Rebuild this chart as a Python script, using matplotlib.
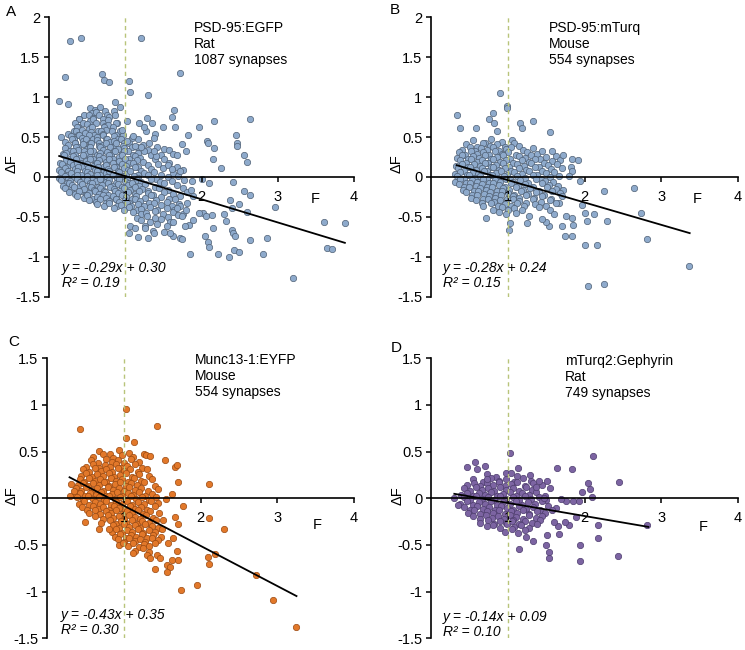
import numpy as np
import matplotlib
matplotlib.use("Agg")
import matplotlib.pyplot as plt

plt.rcParams['font.family'] = ['Liberation Sans', 'DejaVu Sans']
plt.rcParams['axes.unicode_minus'] = False

W, H = 745, 650

# ---- data ----
panel_letters = ["A", "B", "C", "D"]
constructs = ["PSD-95:EGFP", "PSD-95:mTurq", "Munc13-1:EYFP", "mTurq2:Gephyrin"]
species = ["Rat", "Mouse", "Mouse", "Rat"]
n_syn = [1087, 554, 554, 749]
fit_slope = [-0.29, -0.28, -0.43, -0.14]
fit_icpt = [0.30, 0.24, 0.35, 0.09]
fit_r2 = [0.19, 0.15, 0.30, 0.10]
fit_xrange = [(0.13, 3.88), (0.33, 3.37), (0.29, 3.25), (0.30, 2.83)]
y_limits = [(-1.5, 2), (-1.5, 2), (-1.5, 1.5), (-1.5, 1.5)]

# isolated points (F, dF)
a_sparse = [(0.27, 1.70), (0.42, 1.74), (1.21, 1.74), (0.20, 1.25), (0.69, 1.29), (0.72, 1.22),
            (0.79, 1.19), (1.72, 1.30), (1.04, 1.20), (1.06, 1.07), (0.13, 0.95), (0.25, 0.92),
            (1.30, 1.03), (0.86, 0.94), (0.93, 0.88), (0.86, 0.78), (1.64, 0.84), (1.61, 0.75),
            (1.28, 0.74), (1.35, 0.68), (1.49, 0.63), (1.65, 0.63), (2.16, 0.70), (2.63, 0.72),
            (1.97, 0.62), (1.82, 0.53), (1.74, 0.41), (1.79, 0.32), (2.07, 0.45), (2.08, 0.42),
            (2.16, 0.36), (2.45, 0.52), (2.47, 0.43), (2.47, 0.39), (2.15, 0.23), (2.25, 0.11),
            (2.55, 0.28), (2.60, 0.19), (2.41, -0.06), (2.56, -0.17), (2.64, -0.22), (2.96, -0.38),
            (2.37, -0.29), (2.40, -0.39), (2.49, -0.34), (2.60, -0.44), (2.14, -0.48), (2.29, -0.46),
            (2.15, -0.64), (2.32, -0.55), (2.40, -0.66), (2.41, -0.70), (2.44, -0.74), (2.64, -0.79),
            (2.86, -0.77), (2.04, -0.74), (2.08, -0.81), (2.10, -0.88), (2.21, -0.97), (2.36, -1.00),
            (2.43, -0.92), (2.49, -0.94), (2.81, -0.97), (3.20, -1.27), (3.60, -0.57), (3.88, -0.58),
            (3.64, -0.89), (3.71, -0.90), (1.85, -0.96), (1.62, -0.74), (1.72, -0.76), (1.74, -0.78),
            (1.50, -0.69), (1.59, -0.70), (1.29, -0.76), (1.17, -0.75), (1.05, -0.70), (1.06, -0.62),
            (1.13, -0.64), (1.25, -0.64), (1.36, -0.68), (1.38, -0.70), (2.02, -0.45), (1.96, -0.45),
            (2.06, -0.49), (1.84, -0.60), (1.89, -0.54), (1.78, -0.62), (1.63, -0.57), (1.74, -0.49),
            (1.86, -0.16), (1.87, -0.05), (2.00, -0.02), (2.09, -0.08), (1.89, -0.24), (1.81, -0.33),
            (1.72, -0.37), (1.79, -0.42), (1.67, -0.39), (1.51, 0.35), (1.57, 0.34), (1.62, 0.29),
            (1.67, 0.27), (1.56, 0.15), (1.61, 0.10), (1.71, 0.08), (1.40, 0.26), (1.37, 0.32),
            (1.31, 0.43), (1.20, 0.38), (1.12, 0.39), (1.10, 0.51), (1.02, 0.45), (1.39, 0.54),
            (1.37, 0.49), (1.27, 0.57), (1.24, 0.63), (1.18, 0.68), (1.02, 0.70), (0.96, 0.59)]

b_sparse = [(0.33, 0.77), (0.38, 0.61), (0.89, 1.05), (0.99, 0.89), (0.99, 0.87), (0.81, 0.80),
            (0.75, 0.72), (0.82, 0.67), (0.86, 0.58), (0.58, 0.61), (1.16, 0.68), (1.18, 0.61),
            (1.33, 0.70), (1.55, 0.56), (1.57, 0.32), (1.72, 0.27), (1.83, 0.23), (1.91, 0.21),
            (1.82, 0.13), (1.83, 0.07), (1.79, 0.01), (1.94, -0.05), (2.25, -0.18), (2.64, -0.14),
            (2.74, -0.45), (2.81, -0.78), (3.36, -1.12), (2.00, -0.45), (1.96, -0.35), (2.03, -0.55),
            (2.12, -0.46), (2.29, -0.55), (2.01, -0.85), (2.16, -0.85), (2.04, -1.36), (2.25, -1.34),
            (1.75, -0.74), (1.83, -0.74), (1.76, -0.49), (1.83, -0.51), (1.85, -0.60), (1.70, -0.62),
            (0.71, -0.52), (1.01, -0.66), (1.02, -0.58), (1.53, -0.62), (1.49, -0.56), (1.44, -0.53),
            (1.28, -0.49), (1.25, -0.58)]

c_sparse = [(1.03, 0.96), (0.42, 0.74), (1.43, 0.77), (1.03, 0.65), (1.13, 0.60), (0.30, 0.02),
            (0.31, 0.15), (0.35, 0.08), (0.49, -0.25), (0.67, -0.33), (0.80, -0.33), (0.93, -0.50),
            (0.99, -0.48), (1.12, -0.59), (2.11, 0.15), (2.11, -0.21), (1.77, -0.08), (1.62, 0.05),
            (1.71, 0.18), (1.67, 0.34), (1.69, 0.36), (1.54, 0.41), (1.29, 0.46), (1.34, 0.45),
            (2.30, -0.33), (2.09, -0.63), (2.19, -0.60), (2.11, -0.70), (2.72, -0.82), (2.95, -1.09),
            (3.25, -1.38), (1.75, -0.98), (1.95, -0.93), (1.40, -0.76), (1.56, -0.71), (1.60, -0.74),
            (1.63, -0.66), (1.71, -0.66), (1.69, -0.56), (1.58, -0.48), (1.64, -0.43), (1.70, -0.27),
            (1.67, -0.20), (1.51, -0.23), (1.30, -0.61), (1.34, -0.64), (1.43, -0.61), (1.47, -0.64),
            (1.56, -0.79)]

d_sparse = [(1.02, 0.49), (0.29, 0.00), (0.35, -0.07), (0.47, 0.34), (0.57, 0.39), (0.60, 0.31),
            (0.70, 0.35), (0.72, 0.21), (1.13, 0.32), (1.04, 0.27), (1.29, 0.25), (1.64, 0.33),
            (1.83, 0.31), (2.11, 0.45), (2.45, 0.18), (2.05, 0.16), (2.07, 0.10), (2.10, 0.01),
            (1.97, 0.07), (1.93, -0.03), (1.85, -0.03), (1.76, -0.03), (1.69, -0.01), (1.55, 0.11),
            (1.40, 0.19), (1.51, 0.19), (1.36, 0.12), (1.47, 0.00), (1.89, -0.20), (2.17, -0.29),
            (2.18, -0.43), (1.94, -0.50), (1.94, -0.67), (2.43, -0.62), (1.54, -0.64), (1.54, -0.57),
            (1.49, -0.50), (1.79, -0.29), (1.66, -0.38), (1.65, -0.30), (1.60, -0.25), (1.75, -0.25),
            (1.15, -0.54), (1.23, -0.41), (1.33, -0.46), (1.51, -0.39), (2.81, -0.29), (0.73, -0.30),
            (1.05, -0.24)]

# dense clouds (estimated, overlapping markers)
a_core = [
    (0.53, 0.87), (0.60, 0.84), (0.67, 0.88), (0.73, 0.82),
    (0.46, 0.77), (0.56, 0.80), (0.61, 0.81), (0.76, 0.78), (0.85, 0.83),
    (0.39, 0.73), (0.52, 0.78), (0.57, 0.74), (0.65, 0.77), (0.71, 0.72), (0.78, 0.75),
    (0.39, 0.72), (0.44, 0.67), (0.53, 0.70), (0.58, 0.72), (0.70, 0.68), (0.77, 0.71), (0.89, 0.67),
    (0.34, 0.67), (0.38, 0.63), (0.50, 0.66), (0.55, 0.62), (0.61, 0.68), (0.73, 0.64), (0.77, 0.65),
    (0.87, 0.67),
    (0.32, 0.57), (0.36, 0.63), (0.43, 0.59), (0.52, 0.60), (0.56, 0.62), (0.64, 0.58), (0.72, 0.62),
    (0.75, 0.59), (0.84, 0.63), (0.93, 0.57),
    (0.25, 0.54), (0.35, 0.58), (0.38, 0.52), (0.47, 0.55), (0.55, 0.56), (0.59, 0.53), (0.68, 0.58),
    (0.71, 0.54), (0.82, 0.57), (0.88, 0.52),
    (0.15, 0.50), (0.29, 0.51), (0.32, 0.48), (0.39, 0.53), (0.43, 0.49), (0.52, 0.52), (0.57, 0.47),
    (0.62, 0.50), (0.71, 0.52), (0.75, 0.48), (0.85, 0.51), (0.90, 0.47), (0.97, 0.53), (1.09, 0.49),
    (0.21, 0.44), (0.30, 0.47), (0.34, 0.42), (0.44, 0.45), (0.48, 0.47), (0.54, 0.43), (0.62, 0.46),
    (0.65, 0.42), (0.76, 0.48), (0.80, 0.44), (0.85, 0.45), (0.94, 0.47), (0.98, 0.43), (1.17, 0.47),
    (0.24, 0.40), (0.34, 0.42), (0.38, 0.38), (0.44, 0.41), (0.52, 0.37), (0.55, 0.43), (0.65, 0.39),
    (0.70, 0.40), (0.75, 0.42), (0.84, 0.38), (0.87, 0.42), (0.97, 0.39), (1.04, 0.43), (1.09, 0.37),
    (1.23, 0.40),
    (0.20, 0.36), (0.27, 0.32), (0.35, 0.38), (0.38, 0.34), (0.49, 0.35), (0.53, 0.37), (0.58, 0.33),
    (0.67, 0.37), (0.70, 0.34), (0.80, 0.38), (0.85, 0.32), (0.90, 0.35), (0.98, 0.36), (1.03, 0.33),
    (1.15, 0.38), (1.30, 0.34), (1.41, 0.37),
    (0.18, 0.29), (0.22, 0.30), (0.31, 0.32), (0.34, 0.28), (0.45, 0.32), (0.49, 0.29), (0.54, 0.33),
    (0.63, 0.27), (0.66, 0.30), (0.76, 0.31), (0.81, 0.28), (0.86, 0.33), (0.95, 0.29), (0.98, 0.32),
    (1.10, 0.27), (1.16, 0.30), (1.24, 0.32), (1.47, 0.28),
    (0.19, 0.27), (0.27, 0.23), (0.31, 0.26), (0.40, 0.24), (0.44, 0.28), (0.53, 0.25), (0.57, 0.22),
    (0.65, 0.26), (0.70, 0.24), (0.78, 0.27), (0.83, 0.23), (0.91, 0.25), (0.96, 0.28), (1.04, 0.22),
    (1.12, 0.26), (1.19, 0.24), (1.34, 0.27), (1.51, 0.23),
    (0.14, 0.18), (0.22, 0.21), (0.27, 0.19), (0.35, 0.22), (0.40, 0.17), (0.48, 0.20), (0.53, 0.23),
    (0.61, 0.18), (0.65, 0.21), (0.74, 0.19), (0.78, 0.22), (0.87, 0.17), (0.91, 0.20), (1.00, 0.22),
    (1.05, 0.18), (1.15, 0.21), (1.23, 0.19), (1.39, 0.22), (1.57, 0.18),
    (0.17, 0.16), (0.23, 0.13), (0.31, 0.15), (0.36, 0.17), (0.44, 0.12), (0.49, 0.16), (0.57, 0.14),
    (0.62, 0.17), (0.70, 0.13), (0.74, 0.15), (0.83, 0.17), (0.87, 0.12), (0.96, 0.16), (1.01, 0.14),
    (1.10, 0.17), (1.17, 0.13), (1.29, 0.15), (1.43, 0.16), (1.67, 0.13),
    (0.13, 0.09), (0.21, 0.11), (0.25, 0.08), (0.34, 0.10), (0.38, 0.12), (0.47, 0.08), (0.51, 0.11),
    (0.60, 0.09), (0.64, 0.12), (0.72, 0.07), (0.77, 0.10), (0.85, 0.12), (0.90, 0.08), (0.98, 0.11),
    (1.03, 0.09), (1.13, 0.12), (1.20, 0.08), (1.33, 0.10), (1.49, 0.11), (1.76, 0.09),
    (0.16, 0.06), (0.23, 0.03), (0.28, 0.05), (0.36, 0.07), (0.41, 0.03), (0.49, 0.06), (0.54, 0.04),
    (0.62, 0.07), (0.66, 0.02), (0.75, 0.05), (0.79, 0.07), (0.88, 0.03), (0.92, 0.06), (1.01, 0.04),
    (1.06, 0.07), (1.16, 0.03), (1.24, 0.05), (1.37, 0.06), (1.47, 0.03), (1.63, 0.05),
    (0.13, -0.01), (0.20, 0.01), (0.24, -0.02), (0.33, 0.00), (0.37, 0.02), (0.46, -0.02), (0.50, 0.01),
    (0.58, -0.01), (0.63, 0.02), (0.71, -0.02), (0.76, 0.00), (0.84, 0.02), (0.89, -0.01), (0.97, 0.01),
    (1.02, -0.02), (1.11, 0.01), (1.17, -0.01), (1.30, 0.02), (1.40, -0.02), (1.56, 0.00), (1.69, 0.01),
    (0.15, -0.04), (0.23, -0.07), (0.27, -0.05), (0.36, -0.03), (0.40, -0.06), (0.49, -0.04),
    (0.53, -0.07), (0.61, -0.05), (0.66, -0.03), (0.74, -0.06), (0.79, -0.04), (0.87, -0.07),
    (0.92, -0.03), (1.00, -0.05), (1.05, -0.07), (1.15, -0.04), (1.21, -0.06), (1.34, -0.03),
    (1.45, -0.06), (1.61, -0.05), (1.77, -0.04),
    (0.18, -0.11), (0.26, -0.08), (0.30, -0.10), (0.39, -0.12), (0.43, -0.09), (0.52, -0.11),
    (0.56, -0.08), (0.64, -0.12), (0.69, -0.10), (0.77, -0.08), (0.82, -0.11), (0.90, -0.09),
    (0.95, -0.12), (1.03, -0.10), (1.08, -0.08), (1.18, -0.11), (1.25, -0.09), (1.39, -0.12),
    (1.51, -0.08), (1.68, -0.10),
    (0.21, -0.14), (0.29, -0.16), (0.33, -0.13), (0.42, -0.17), (0.46, -0.15), (0.55, -0.13),
    (0.59, -0.16), (0.67, -0.14), (0.72, -0.17), (0.80, -0.13), (0.85, -0.15), (0.93, -0.17),
    (0.98, -0.14), (1.06, -0.16), (1.12, -0.13), (1.22, -0.15), (1.30, -0.17), (1.44, -0.14),
    (1.56, -0.16), (1.75, -0.14),
    (0.26, -0.19), (0.34, -0.21), (0.39, -0.18), (0.48, -0.22), (0.52, -0.20), (0.60, -0.18),
    (0.65, -0.21), (0.73, -0.19), (0.77, -0.22), (0.86, -0.18), (0.90, -0.20), (0.99, -0.22),
    (1.03, -0.19), (1.12, -0.21), (1.18, -0.18), (1.29, -0.20), (1.36, -0.22), (1.50, -0.19),
    (1.62, -0.21), (1.81, -0.19),
    (0.36, -0.24), (0.45, -0.26), (0.49, -0.23), (0.58, -0.27), (0.62, -0.25), (0.71, -0.23),
    (0.75, -0.26), (0.83, -0.24), (0.88, -0.27), (0.96, -0.23), (1.01, -0.25), (1.09, -0.27),
    (1.14, -0.24), (1.25, -0.26), (1.33, -0.23), (1.46, -0.25), (1.57, -0.27), (1.72, -0.24),
    (0.52, -0.29), (0.61, -0.31), (0.66, -0.28), (0.74, -0.32), (0.78, -0.30), (0.87, -0.28),
    (0.91, -0.31), (1.00, -0.29), (1.04, -0.32), (1.13, -0.28), (1.19, -0.30), (1.31, -0.32),
    (1.40, -0.29), (1.55, -0.31), (1.65, -0.28),
    (0.62, -0.34), (0.72, -0.36), (0.79, -0.33), (0.89, -0.37), (0.94, -0.35), (1.02, -0.33),
    (1.07, -0.36), (1.17, -0.34), (1.24, -0.37), (1.37, -0.33), (1.47, -0.35), (1.61, -0.37),
    (1.70, -0.34),
    (0.85, -0.39), (0.98, -0.41), (1.05, -0.38), (1.15, -0.42), (1.21, -0.40), (1.32, -0.38),
    (1.41, -0.41), (1.54, -0.39), (1.64, -0.42),
    (1.10, -0.44), (1.20, -0.47), (1.27, -0.45), (1.39, -0.43), (1.49, -0.46), (1.63, -0.44),
    (1.76, -0.46),
    (1.15, -0.51), (1.28, -0.49), (1.39, -0.52), (1.56, -0.50), (1.69, -0.48),
    (1.21, -0.54), (1.32, -0.56), (1.47, -0.53), (1.59, -0.57),
    (1.26, -0.61), (1.42, -0.59), (1.55, -0.62),
]

b_core = [
    (0.55, 0.46), (0.70, 0.43), (0.78, 0.47), (0.92, 0.44), (1.05, 0.46),
    (0.45, 0.41), (0.60, 0.38), (0.68, 0.42), (0.76, 0.39), (0.86, 0.41), (0.96, 0.38), (1.08, 0.42),
    (1.15, 0.39),
    (0.40, 0.34), (0.50, 0.37), (0.57, 0.33), (0.65, 0.36), (0.73, 0.34), (0.80, 0.37), (0.88, 0.33),
    (0.97, 0.35), (1.04, 0.37), (1.20, 0.34), (1.32, 0.36),
    (0.36, 0.31), (0.44, 0.28), (0.52, 0.32), (0.60, 0.29), (0.68, 0.31), (0.75, 0.28), (0.83, 0.32),
    (0.92, 0.29), (1.00, 0.31), (1.10, 0.28), (1.25, 0.31), (1.38, 0.29), (1.45, 0.32),
    (0.33, 0.24), (0.40, 0.27), (0.48, 0.23), (0.55, 0.26), (0.62, 0.24), (0.70, 0.27), (0.78, 0.23),
    (0.86, 0.25), (0.94, 0.27), (1.02, 0.23), (1.15, 0.26), (1.22, 0.24), (1.30, 0.27), (1.42, 0.23),
    (1.50, 0.25), (1.62, 0.26),
    (0.37, 0.21), (0.45, 0.18), (0.52, 0.22), (0.59, 0.19), (0.66, 0.21), (0.74, 0.18), (0.81, 0.22),
    (0.89, 0.19), (0.97, 0.21), (1.06, 0.18), (1.18, 0.21), (1.27, 0.19), (1.35, 0.22), (1.47, 0.18),
    (1.57, 0.20), (1.68, 0.21),
    (0.32, 0.14), (0.40, 0.16), (0.48, 0.13), (0.56, 0.16), (0.63, 0.14), (0.70, 0.17), (0.78, 0.13),
    (0.85, 0.15), (0.93, 0.17), (1.01, 0.13), (1.12, 0.16), (1.21, 0.14), (1.30, 0.17), (1.40, 0.13),
    (1.52, 0.15), (1.64, 0.16),
    (0.35, 0.11), (0.43, 0.08), (0.51, 0.12), (0.58, 0.09), (0.66, 0.11), (0.73, 0.08), (0.81, 0.12),
    (0.88, 0.09), (0.96, 0.11), (1.04, 0.08), (1.14, 0.11), (1.24, 0.09), (1.35, 0.12), (1.45, 0.08),
    (1.56, 0.10), (1.70, 0.11),
    (0.31, 0.04), (0.38, 0.06), (0.46, 0.03), (0.54, 0.06), (0.61, 0.04), (0.69, 0.07), (0.76, 0.03),
    (0.84, 0.05), (0.91, 0.07), (0.99, 0.03), (1.08, 0.06), (1.18, 0.04), (1.28, 0.07), (1.38, 0.03),
    (1.50, 0.05), (1.60, 0.06),
    (0.34, 0.01), (0.42, -0.02), (0.49, 0.02), (0.57, -0.01), (0.64, 0.01), (0.72, -0.02), (0.79, 0.02),
    (0.87, -0.01), (0.95, 0.01), (1.03, -0.02), (1.12, 0.01), (1.22, -0.01), (1.32, 0.02), (1.43, -0.02),
    (1.55, 0.00), (1.66, 0.01),
    (0.31, -0.06), (0.38, -0.03), (0.45, -0.07), (0.53, -0.04), (0.60, -0.06), (0.68, -0.03),
    (0.75, -0.07), (0.83, -0.04), (0.90, -0.06), (0.98, -0.03), (1.07, -0.06), (1.16, -0.04),
    (1.26, -0.07), (1.37, -0.03), (1.48, -0.05), (1.59, -0.06),
    (0.36, -0.09), (0.43, -0.12), (0.51, -0.08), (0.58, -0.11), (0.66, -0.09), (0.73, -0.12),
    (0.81, -0.08), (0.88, -0.10), (0.96, -0.12), (1.04, -0.08), (1.13, -0.11), (1.22, -0.09),
    (1.33, -0.12), (1.44, -0.08), (1.53, -0.10), (1.65, -0.11),
    (0.41, -0.16), (0.49, -0.13), (0.56, -0.17), (0.64, -0.14), (0.71, -0.16), (0.79, -0.13),
    (0.86, -0.17), (0.94, -0.14), (1.01, -0.16), (1.10, -0.13), (1.19, -0.16), (1.29, -0.14),
    (1.40, -0.17), (1.51, -0.13), (1.62, -0.15), (1.72, -0.16),
    (0.45, -0.19), (0.53, -0.22), (0.61, -0.18), (0.69, -0.21), (0.76, -0.19), (0.84, -0.22),
    (0.92, -0.18), (1.00, -0.20), (1.08, -0.22), (1.17, -0.18), (1.26, -0.21), (1.36, -0.19),
    (1.47, -0.22), (1.58, -0.18), (1.68, -0.20),
    (0.52, -0.26), (0.60, -0.23), (0.68, -0.27), (0.75, -0.24), (0.83, -0.26), (0.91, -0.23),
    (0.99, -0.27), (1.06, -0.24), (1.15, -0.26), (1.24, -0.23), (1.34, -0.26), (1.44, -0.24),
    (1.56, -0.27), (1.70, -0.24),
    (0.58, -0.29), (0.66, -0.32), (0.74, -0.28), (0.82, -0.31), (0.90, -0.29), (0.98, -0.32),
    (1.06, -0.28), (1.14, -0.30), (1.23, -0.32), (1.33, -0.28), (1.43, -0.31), (1.55, -0.29),
    (1.66, -0.32),
    (0.68, -0.36), (0.78, -0.33), (0.87, -0.37), (0.96, -0.34), (1.04, -0.36), (1.12, -0.33),
    (1.21, -0.37), (1.35, -0.34), (1.50, -0.36), (1.62, -0.33),
    (0.80, -0.41), (0.92, -0.38), (1.00, -0.42), (1.08, -0.39), (1.18, -0.41), (1.40, -0.38),
    (1.55, -0.42),
    (0.88, -0.44), (0.98, -0.47), (1.10, -0.45), (1.60, -0.46),
]

c_core = [
    (0.68, 0.51), (0.82, 0.48), (0.93, 0.52), (1.07, 0.49),
    (0.60, 0.44), (0.72, 0.47), (0.86, 0.43), (0.97, 0.46), (1.12, 0.44), (1.26, 0.47),
    (0.57, 0.41), (0.66, 0.38), (0.76, 0.42), (0.84, 0.39), (0.92, 0.41), (1.00, 0.38), (1.09, 0.42),
    (1.20, 0.39),
    (0.50, 0.34), (0.60, 0.37), (0.68, 0.33), (0.75, 0.36), (0.82, 0.34), (0.89, 0.37), (0.96, 0.33),
    (1.04, 0.35), (1.15, 0.37), (1.24, 0.33),
    (0.47, 0.31), (0.55, 0.28), (0.62, 0.32), (0.70, 0.29), (0.77, 0.31), (0.85, 0.28), (0.92, 0.32),
    (1.00, 0.29), (1.08, 0.31), (1.18, 0.28), (1.30, 0.31),
    (0.44, 0.24), (0.51, 0.27), (0.58, 0.23), (0.65, 0.26), (0.72, 0.24), (0.80, 0.27), (0.87, 0.23),
    (0.95, 0.25), (1.02, 0.27), (1.10, 0.23), (1.20, 0.26), (1.33, 0.24),
    (0.42, 0.21), (0.48, 0.18), (0.55, 0.22), (0.62, 0.19), (0.69, 0.21), (0.76, 0.18), (0.83, 0.22),
    (0.90, 0.19), (0.97, 0.21), (1.05, 0.18), (1.13, 0.22), (1.22, 0.19), (1.37, 0.21),
    (0.40, 0.14), (0.46, 0.16), (0.53, 0.13), (0.60, 0.16), (0.67, 0.14), (0.74, 0.17), (0.81, 0.13),
    (0.88, 0.15), (0.95, 0.17), (1.02, 0.13), (1.09, 0.16), (1.17, 0.14), (1.26, 0.17), (1.40, 0.13),
    (0.38, 0.11), (0.44, 0.08), (0.51, 0.12), (0.58, 0.09), (0.65, 0.11), (0.72, 0.08), (0.79, 0.12),
    (0.86, 0.09), (0.93, 0.11), (1.00, 0.08), (1.07, 0.12), (1.14, 0.09), (1.22, 0.11), (1.31, 0.08),
    (1.45, 0.10),
    (0.36, 0.04), (0.42, 0.06), (0.49, 0.03), (0.56, 0.06), (0.63, 0.04), (0.70, 0.07), (0.77, 0.03),
    (0.84, 0.05), (0.91, 0.07), (0.98, 0.03), (1.05, 0.06), (1.12, 0.04), (1.19, 0.07), (1.27, 0.03),
    (1.36, 0.05),
    (0.39, 0.01), (0.46, -0.02), (0.53, 0.02), (0.60, -0.01), (0.67, 0.01), (0.74, -0.02), (0.81, 0.02),
    (0.88, -0.01), (0.95, 0.01), (1.02, -0.02), (1.09, 0.02), (1.16, -0.01), (1.24, 0.01), (1.33, -0.02),
    (1.42, 0.01), (1.55, -0.01),
    (0.41, -0.06), (0.48, -0.03), (0.55, -0.07), (0.62, -0.04), (0.69, -0.06), (0.76, -0.03),
    (0.83, -0.07), (0.90, -0.04), (0.97, -0.06), (1.04, -0.03), (1.11, -0.07), (1.18, -0.04),
    (1.26, -0.06), (1.35, -0.03), (1.45, -0.05),
    (0.45, -0.09), (0.52, -0.12), (0.59, -0.08), (0.66, -0.11), (0.73, -0.09), (0.80, -0.12),
    (0.87, -0.08), (0.94, -0.10), (1.01, -0.12), (1.08, -0.08), (1.15, -0.11), (1.22, -0.09),
    (1.30, -0.12), (1.40, -0.08),
    (0.55, -0.16), (0.62, -0.13), (0.69, -0.17), (0.76, -0.14), (0.83, -0.16), (0.90, -0.13),
    (0.97, -0.17), (1.04, -0.14), (1.11, -0.16), (1.18, -0.13), (1.25, -0.17), (1.34, -0.14),
    (1.46, -0.16),
    (0.62, -0.19), (0.72, -0.22), (0.79, -0.18), (0.86, -0.21), (0.93, -0.19), (1.00, -0.22),
    (1.07, -0.18), (1.14, -0.20), (1.21, -0.22), (1.29, -0.18), (1.38, -0.21),
    (0.70, -0.26), (0.82, -0.23), (0.89, -0.27), (0.96, -0.24), (1.03, -0.26), (1.10, -0.23),
    (1.17, -0.27), (1.24, -0.24), (1.32, -0.26), (1.42, -0.23),
    (0.86, -0.29), (0.93, -0.32), (1.00, -0.28), (1.07, -0.31), (1.14, -0.29), (1.21, -0.32),
    (1.28, -0.28), (1.36, -0.30), (1.45, -0.32),
    (0.84, -0.36), (0.90, -0.33), (0.97, -0.37), (1.04, -0.34), (1.11, -0.36), (1.18, -0.33),
    (1.25, -0.37), (1.32, -0.34), (1.40, -0.36), (1.50, -0.33),
    (0.88, -0.41), (0.95, -0.38), (1.02, -0.42), (1.09, -0.39), (1.16, -0.41), (1.23, -0.38),
    (1.30, -0.42), (1.38, -0.39), (1.48, -0.41),
    (0.92, -0.44), (1.00, -0.47), (1.07, -0.43), (1.14, -0.46), (1.21, -0.44), (1.28, -0.47),
    (1.36, -0.43), (1.44, -0.45),
    (1.05, -0.51), (1.12, -0.48), (1.19, -0.52), (1.26, -0.49), (1.33, -0.51), (1.40, -0.48),
    (1.15, -0.56), (1.25, -0.53), (1.32, -0.57),
]

d_core = [
    (0.72, 0.26), (0.85, 0.23), (0.98, 0.27), (1.12, 0.24),
    (0.55, 0.21), (0.68, 0.18), (0.78, 0.22), (0.88, 0.19), (0.97, 0.21), (1.08, 0.18), (1.20, 0.22),
    (1.30, 0.19),
    (0.47, 0.14), (0.56, 0.16), (0.64, 0.13), (0.72, 0.16), (0.80, 0.14), (0.88, 0.17), (0.96, 0.13),
    (1.04, 0.15), (1.12, 0.17), (1.22, 0.13), (1.33, 0.16), (1.44, 0.14),
    (0.43, 0.11), (0.50, 0.08), (0.58, 0.12), (0.66, 0.09), (0.74, 0.11), (0.82, 0.08), (0.90, 0.12),
    (0.98, 0.09), (1.06, 0.11), (1.14, 0.08), (1.23, 0.12), (1.31, 0.09),
    (0.39, 0.04), (0.46, 0.06), (0.54, 0.03), (0.62, 0.06), (0.70, 0.04), (0.78, 0.07), (0.86, 0.03),
    (0.94, 0.05), (1.02, 0.07), (1.10, 0.03), (1.18, 0.06), (1.27, 0.04), (1.37, 0.07), (1.48, 0.03),
    (0.42, 0.01), (0.50, -0.02), (0.58, 0.02), (0.66, -0.01), (0.74, 0.01), (0.82, -0.02), (0.90, 0.02),
    (0.98, -0.01), (1.06, 0.01), (1.14, -0.02), (1.22, 0.02), (1.30, -0.01), (1.40, 0.01), (1.50, -0.02),
    (0.38, -0.06), (0.46, -0.03), (0.54, -0.07), (0.62, -0.04), (0.70, -0.06), (0.78, -0.03),
    (0.86, -0.07), (0.94, -0.04), (1.02, -0.06), (1.10, -0.03), (1.18, -0.07), (1.26, -0.04),
    (1.35, -0.06), (1.45, -0.03),
    (0.43, -0.09), (0.51, -0.12), (0.59, -0.08), (0.67, -0.11), (0.75, -0.09), (0.83, -0.12),
    (0.91, -0.08), (0.99, -0.10), (1.07, -0.12), (1.15, -0.08), (1.23, -0.11), (1.32, -0.09),
    (1.42, -0.12), (1.52, -0.08), (1.63, -0.10),
    (0.48, -0.16), (0.56, -0.13), (0.64, -0.17), (0.72, -0.14), (0.80, -0.16), (0.88, -0.13),
    (0.96, -0.17), (1.04, -0.14), (1.12, -0.16), (1.20, -0.13), (1.28, -0.17), (1.38, -0.14),
    (1.48, -0.16), (1.58, -0.13),
    (0.55, -0.19), (0.63, -0.22), (0.71, -0.18), (0.79, -0.21), (0.87, -0.19), (0.95, -0.22),
    (1.03, -0.18), (1.11, -0.20), (1.19, -0.22), (1.27, -0.18), (1.36, -0.21), (1.45, -0.19),
    (0.64, -0.26), (0.74, -0.23), (0.82, -0.27), (0.90, -0.24), (0.98, -0.26), (1.06, -0.23),
    (1.14, -0.27), (1.22, -0.24), (1.31, -0.26), (1.42, -0.23),
    (0.80, -0.29), (0.90, -0.32), (0.99, -0.28), (1.08, -0.31), (1.17, -0.29), (1.27, -0.32),
    (1.38, -0.28),
    (0.96, -0.36), (1.05, -0.33), (1.13, -0.37), (1.22, -0.34),
]

all_points = [a_core + a_sparse, b_core + b_sparse, c_core + c_sparse, d_core + d_sparse]

# ---- styling / layout (pixels of the 745x650 canvas) ----
face = ['#8eaacc', '#8eaacc', '#e2782a', '#7c64a2']
edge = ['#4f6075', '#4f6075', '#9a4a12', '#4e3d6e']
axes_px = [(49.3, 17.3, 354.0, 296.7), (431.3, 17.3, 738.0, 296.7),
           (47.3, 358.3, 354.0, 638.3), (431.3, 358.3, 738.0, 638.3)]
letter_px = [(10.8, 12), (394.5, 10.5), (13.3, 342), (396, 347.5)]
ylab_px = [(11.7, 163.3), (396.5, 163.3), (11.2, 495.8), (397.8, 495.8)]
flab_px = [(315, 199), (697, 199.3), (317, 525), (703.5, 526.7)]
info_px = [(194.3, 21), (548.7, 21), (195, 352.5), (565.3, 354)]
eq_px = [(61.7, 268.3), (443, 268.3), (61, 615), (443, 616.7)]
dash_col = '#b8c47a'


def fx(x):
    return x / W


def fy(y):
    return 1 - y / H


fig = plt.figure(figsize=(W / 100, H / 100), dpi=100)

for i in range(4):
    x0, y0, x1, y1 = axes_px[i]
    ax = fig.add_axes([fx(x0), fy(y1), (x1 - x0) / W, (y1 - y0) / H])
    ax.patch.set_alpha(0)
    ax.set_axisbelow(False)

    pts = all_points[i]
    px = np.array([p[0] for p in pts])
    py = np.array([p[1] for p in pts])
    ax.scatter(px, py, s=21, c=face[i], edgecolors=edge[i], linewidths=0.5, zorder=2)

    lo, hi = y_limits[i]
    ax.axvline(1, color=dash_col, lw=1.0, dashes=(3, 2.5), zorder=4)
    xa, xb = fit_xrange[i]
    ax.plot([xa, xb], [fit_slope[i] * xa + fit_icpt[i], fit_slope[i] * xb + fit_icpt[i]],
            color='black', lw=1.3, zorder=5)

    ax.set_xlim(0, 4)
    ax.set_ylim(lo, hi)
    ax.spines['top'].set_visible(False)
    ax.spines['right'].set_visible(False)
    ax.spines['bottom'].set_position(('data', 0))
    for s in ('left', 'bottom'):
        ax.spines[s].set_linewidth(1.2)
        ax.spines[s].set_zorder(3)
    ax.set_xticks([1, 2, 3, 4])
    ax.set_xticklabels(['1', '2', '3', '4'])
    yt = np.arange(lo, hi + 0.01, 0.5)
    ax.set_yticks(yt)
    ax.set_yticklabels(['%g' % v for v in yt])
    ax.tick_params(axis='x', direction='out', length=3.5, width=1.1, pad=6, labelsize=10.5)
    ax.tick_params(axis='y', direction='out', length=3.5, width=1.1, pad=3, labelsize=10.5)

    fig.text(fx(letter_px[i][0]), fy(letter_px[i][1]), panel_letters[i],
             fontsize=11, ha='center', va='center')
    fig.text(fx(ylab_px[i][0]), fy(ylab_px[i][1]), u'\u0394F',
             fontsize=10.5, rotation=90, ha='center', va='center')
    fig.text(fx(flab_px[i][0]), fy(flab_px[i][1]), 'F', fontsize=10.5,
             ha='center', va='center')
    fig.text(fx(info_px[i][0]), fy(info_px[i][1]),
             '%s\n%s\n%d synapses' % (constructs[i], species[i], n_syn[i]),
             fontsize=10, ha='left', va='top', linespacing=1.2)
    ex, ey = eq_px[i]
    fig.text(fx(ex), fy(ey), 'y = %.2fx + %.2f' % (fit_slope[i], fit_icpt[i]),
             fontsize=10, style='italic', ha='left', va='center')
    fig.text(fx(ex), fy(ey + 15), u'R\u00b2 = %.2f' % fit_r2[i],
             fontsize=10, style='italic', ha='left', va='center')

fig.savefig('out.png', dpi=100)
